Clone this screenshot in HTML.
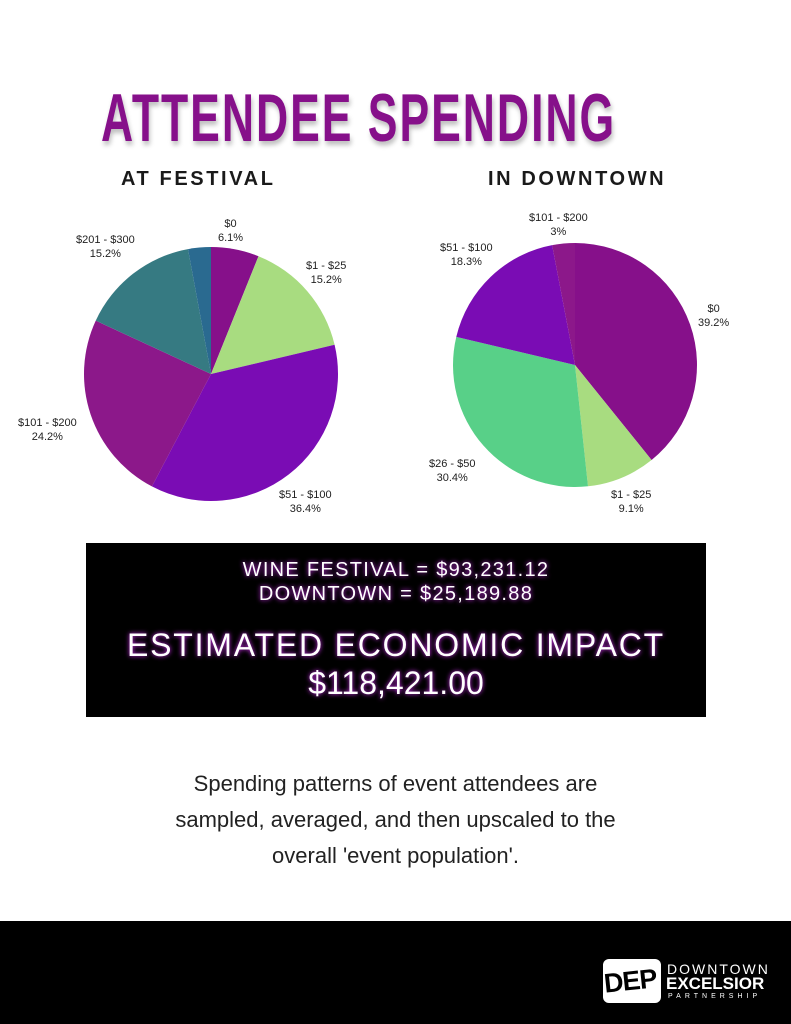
<!DOCTYPE html>
<html><head><meta charset="utf-8"><style>
body{margin:0;width:791px;height:1024px;background:#fff;position:relative;overflow:hidden;font-family:"Liberation Sans",sans-serif}
.t{position:absolute;white-space:nowrap}
#title{left:101px;top:78px;font-family:"Liberation Sans Narrow","Liberation Sans",sans-serif;font-weight:bold;font-size:68px;color:#86108a;transform:scaleX(0.655);transform-origin:left top;letter-spacing:3px;text-shadow:2px 4px 6px rgba(0,0,0,0.25);line-height:80px}
.sub{font-weight:bold;font-size:20px;letter-spacing:2.6px;color:#1a1a1a}
.lb{font-size:11px;color:#222;text-align:center;line-height:14px}
#box{position:absolute;left:86px;top:543px;width:620px;height:174px;background:#000}
.g{color:#fff;text-align:center;width:620px;left:0;text-shadow:0 0 5px #d030f0}
#foot{position:absolute;left:0;top:921px;width:791px;height:103px;background:#000}
</style></head><body>
<div class="t" id="title">ATTENDEE SPENDING</div>
<div class="t sub" style="left:121px;top:168px">AT FESTIVAL</div>
<div class="t sub" style="left:488px;top:168px">IN DOWNTOWN</div>
<svg width="791" height="1024" style="position:absolute;left:0;top:0" id="s"></svg>
<div class="t lb" style="left:218px;top:217px">$0<br>6.1%</div>
<div class="t lb" style="left:76px;top:233px">$201 - $300<br>15.2%</div>
<div class="t lb" style="left:306px;top:259px">$1 - $25<br>15.2%</div>
<div class="t lb" style="left:18px;top:416px">$101 - $200<br>24.2%</div>
<div class="t lb" style="left:279px;top:488px">$51 - $100<br>36.4%</div>
<div class="t lb" style="left:529px;top:211px">$101 - $200<br>3%</div>
<div class="t lb" style="left:440px;top:241px">$51 - $100<br>18.3%</div>
<div class="t lb" style="left:698px;top:302px">$0<br>39.2%</div>
<div class="t lb" style="left:429px;top:457px">$26 - $50<br>30.4%</div>
<div class="t lb" style="left:611px;top:488px">$1 - $25<br>9.1%</div>
<div id="box">
<div class="t g" style="top:16px;font-size:20px;letter-spacing:1.3px">WINE FESTIVAL = $93,231.12</div>
<div class="t g" style="top:40px;font-size:20px;letter-spacing:1.3px">DOWNTOWN = $25,189.88</div>
<div class="t g" style="top:84px;font-size:32px;letter-spacing:1.8px">ESTIMATED ECONOMIC IMPACT</div>
<div class="t g" style="top:122px;font-size:32px">$118,421.00</div>
</div>
<div class="t" style="left:0;width:791px;top:766px;text-align:center;font-size:22px;line-height:36px;color:#222">Spending patterns of event attendees are<br>sampled, averaged, and then upscaled to the<br>overall 'event population'.</div>
<div id="foot">
<div style="position:absolute;left:603px;top:38px;width:58px;height:44px;background:#fff;border-radius:6px"></div>
<div class="t" style="left:604px;top:45px;font-weight:bold;font-size:27px;color:#000;transform:rotate(-6deg);letter-spacing:-1px">DEP</div>
<div class="t" style="left:667px;top:40px;color:#fff;font-size:14px;letter-spacing:2px">DOWNTOWN</div>
<div class="t" style="left:666px;top:53px;color:#fff;font-size:17px;font-weight:bold">EXCELSIOR</div>
<div class="t" style="left:668px;top:72px;color:#fff;font-size:7px;letter-spacing:4px">PARTNERSHIP</div>
</div>
<script>
function pie(cx,cy,r,d){var s=document.getElementById('s'),a=0,h='';d.forEach(function(p){var b=a+p[0]/100*2*Math.PI;var x1=cx+r*Math.sin(a),y1=cy-r*Math.cos(a),x2=cx+r*Math.sin(b),y2=cy-r*Math.cos(b);h+='<path d="M'+cx+' '+cy+'L'+x1+' '+y1+'A'+r+' '+r+' 0 '+(b-a>Math.PI?1:0)+' 1 '+x2+' '+y2+'Z" fill="'+p[1]+'"/>';a=b;});s.innerHTML+=h;}
pie(211,374,127,[[6.1,'#86108a'],[15.2,'#a8dc80'],[36.4,'#7a0cb4'],[24.2,'#8c188a'],[15.2,'#367a82'],[2.9,'#2a6a90']]);
pie(575,365,122,[[39.2,'#86108a'],[9.1,'#a8dc80'],[30.4,'#58d088'],[18.3,'#7a0cb4'],[3,'#8c188a']]);
</script>
</body></html>
